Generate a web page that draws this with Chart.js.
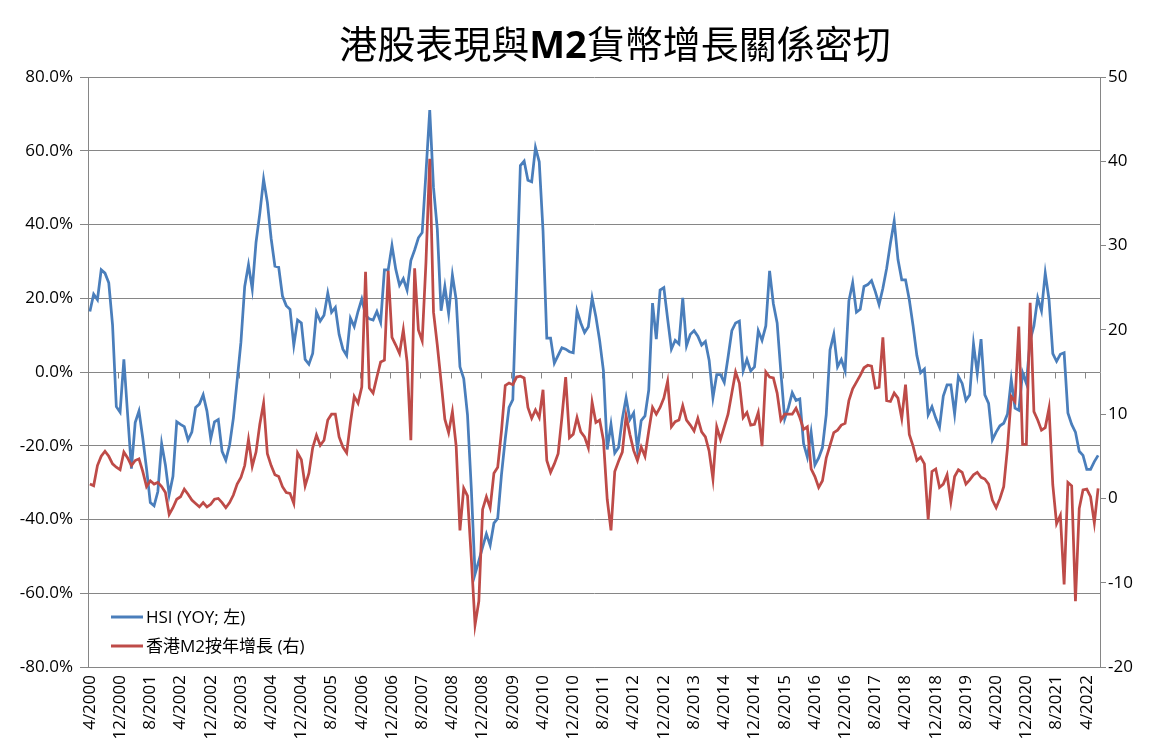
<!DOCTYPE html>
<html>
<head>
<meta charset="utf-8">
<script src="https://cdn.jsdelivr.net/npm/chart.js@4.4.0/dist/chart.umd.min.js"></script>
<style>
html,body{margin:0;padding:0;background:#fff;}
#c{display:block;}
</style>
</head>
<body>
<canvas id="c" width="1157" height="752"></canvas>
<script>
// ---- data ----
const startYear = 2000, startMonth = 4, nMonths = 268;
const labelEvery = 8;
const titleParts = [
  {text: '港股表現與', bold: false},
  {text: 'M2', bold: true},
  {text: '貨幣增長關係密切', bold: false}
];
const seriesNames = ['HSI (YOY; 左)', '香港M2按年增長 (右)'];
const leftTicks = {min: -80, max: 80, step: 20};
const rightTicks = {min: -20, max: 50, step: 10};

const hsi = [
16.4,21.1,19.6,27.7,26.8,24.2,12.8,-9.4,-10.9,3.4,
-11.6,-26.2,-13.7,-10.6,-17.9,-26.2,-35.4,-36.3,-32.4,-19.4,
-25.2,-33.3,-28.3,-13.5,-14.2,-14.8,-18.4,-16.3,-9.6,-8.7,
-6.2,-10.6,-18.1,-13.5,-12.9,-21.5,-23.9,-19.8,-12.5,-2.3,
8.1,23.2,29.1,22.5,35.2,43.0,52.3,46.0,36.2,28.7,
28.4,20.6,18.0,17.0,7.3,14.1,13.3,3.4,2.1,5.0,
16.2,13.8,15.4,21.4,16.2,17.5,10.2,6.2,4.5,14.6,
12.3,16.4,19.8,15.4,14.4,14.1,16.4,13.5,27.7,27.7,
34.3,27.9,23.5,25.3,22.2,30.2,33.1,36.4,37.8,54.0,
71.0,50.0,38.8,16.6,23.2,15.9,26.3,19.6,1.4,-1.8,
-11.6,-31.4,-54.8,-51.2,-47.5,-43.9,-47.0,-41.0,-39.7,-27.8,
-18.1,-9.6,-7.5,24.0,56.0,57.2,52.0,51.6,60.9,57.0,
38.3,9.2,9.2,2.4,4.5,6.6,6.2,5.5,5.2,16.6,
13.3,10.7,12.3,20.1,15.0,8.5,0.3,-21.0,-14.2,-22.0,
-20.5,-12.7,-7.0,-12.9,-11.1,-21.0,-13.2,-11.9,-4.9,18.7,
8.9,22.2,22.9,14.4,6.2,8.6,7.6,20.1,7.1,10.2,
11.2,9.7,7.3,8.3,3.1,-7.0,-0.7,-0.7,-2.8,4.0,
11.2,13.3,13.8,0.3,3.4,0.3,1.4,11.2,8.6,12.5,
27.4,18.5,13.3,-0.2,-12.7,-9.6,-5.6,-7.7,-7.3,-19.4,
-23.1,-16.3,-25.2,-23.3,-20.5,-11.6,6.0,10.2,1.4,3.4,
0.3,19.3,24.2,16.2,17.0,23.2,23.7,24.8,21.8,18.3,
22.7,28.1,34.9,40.9,30.5,25.0,25.0,19.6,12.5,4.5,
-0.2,0.8,-11.6,-9.4,-12.5,-15.0,-6.5,-3.5,-3.5,-11.4,
-1.2,-3.1,-7.7,-6.2,7.6,-0.4,8.9,-6.2,-8.5,-18.4,
-16.3,-14.6,-13.9,-11.4,-2.1,-9.8,-10.4,-0.2,-3.1,8.6,
12.5,20.1,16.6,26.8,19.6,5.0,2.9,4.8,5.2,-11.1,
-14.2,-16.3,-21.5,-22.6,-26.4,-26.4,-24.3,-22.6
];

const m2 = [
1.7,1.5,3.9,5.0,5.6,5.0,4.1,3.7,3.4,5.5,
4.8,3.9,4.5,4.7,3.2,1.4,2.1,1.7,1.9,1.4,
0.7,-1.9,-1.1,-0.1,0.2,1.1,0.5,-0.2,-0.6,-1.0,
-0.5,-1.0,-0.7,-0.1,0.0,-0.5,-1.1,-0.5,0.4,1.7,
2.5,3.9,7.0,3.8,5.5,8.8,11.3,5.3,3.9,2.8,
2.6,1.4,0.7,0.6,-0.6,5.4,4.6,1.5,3.0,6.0,
7.5,6.3,6.9,9.3,10.0,10.0,7.3,6.1,5.4,9.0,
12.1,11.3,13.2,26.9,13.1,12.5,14.4,16.2,16.4,27.0,
19.1,18.2,17.2,20.0,16.2,6.9,27.3,20.0,18.7,28.0,
40.3,22.1,18.2,13.9,9.4,7.8,10.3,6.2,-3.8,1.2,
0.3,-7.0,-15.0,-12.2,-1.3,0.2,-1.1,3.0,3.7,8.0,
13.4,13.7,13.5,14.4,14.5,14.3,10.8,9.5,10.5,9.6,
12.9,4.5,3.1,4.1,5.3,9.6,14.4,7.2,7.6,9.6,
7.9,7.3,6.0,11.4,9.0,9.3,6.9,-0.1,-3.8,3.2,
4.4,5.5,9.8,7.6,5.7,4.5,6.1,5.0,8.0,10.8,
10.0,10.8,11.9,13.9,8.5,9.1,9.3,11.0,9.3,8.7,
8.0,9.5,7.9,7.3,5.6,2.3,8.5,7.0,8.5,10.0,
12.5,15.0,13.7,9.6,10.2,8.7,8.8,10.2,6.2,15.0,
14.4,14.3,12.5,9.3,10.0,10.0,10.0,10.7,9.6,8.2,
8.5,3.5,2.6,1.3,2.1,4.8,6.3,7.8,8.1,8.7,
8.9,11.6,13.0,13.8,14.6,15.5,15.8,15.7,13.1,13.2,
19.1,11.6,11.5,12.5,11.9,9.5,13.5,7.6,6.2,4.5,
4.9,4.1,-2.5,3.2,3.5,1.3,1.7,2.8,-0.4,2.6,
3.4,3.1,1.7,2.2,2.8,3.1,2.5,2.3,1.7,-0.2,
-1.1,0.0,1.4,6.0,12.1,11.5,20.4,6.4,6.4,23.2,
10.3,9.3,8.1,8.4,10.7,1.6,-3.0,-2.0,-10.2,1.9,
1.5,-12.2,-1.2,1.0,1.1,0.2,-2.9,1.2
];

const labels = [];
for (let i = 0; i < nMonths; i++) {
  const t = (startMonth - 1) + i;
  labels.push(((t % 12) + 1) + '/' + (startYear + Math.floor(t / 12)));
}

// ---- style ----
const BLUE = '#4A7EBB', RED = '#BE4B48', GRID = '#868686';
const FONT = '"Open Sans", "Noto Sans CJK TC", sans-serif';
Chart.defaults.font.family = FONT;
Chart.defaults.font.size = 17;
Chart.defaults.color = '#000';

const decor = {
  id: 'decor',
  beforeDatasetsDraw(chart) {
    const {ctx, chartArea} = chart;
    const x = chart.scales.x, y = chart.scales.y;
    const y0 = Math.round(y.getPixelForValue(0)) + 0.5;
    ctx.save();
    ctx.strokeStyle = GRID; ctx.lineWidth = 1;
    ctx.beginPath();
    ctx.moveTo(chartArea.left, y0); ctx.lineTo(chartArea.right, y0);
    for (let i = 0; i <= labels.length; i += labelEvery) {
      let px;
      if (i === 0) px = chartArea.left;
      else if (i >= labels.length) px = chartArea.right;
      else px = (x.getPixelForValue(i) + x.getPixelForValue(i - 1)) / 2;
      px = Math.round(px) + 0.5;
      ctx.moveTo(px, y0); ctx.lineTo(px, y0 + 6);
    }
    ctx.stroke();
    ctx.restore();
  },
  afterDraw(chart) {
    const {ctx} = chart;
    ctx.save();
    // title
    const fNorm = '38px "Noto Sans CJK TC", sans-serif';
    const fBold = 'bold 38px "Open Sans", "Liberation Sans", sans-serif';
    let total = 0;
    const widths = titleParts.map(p => { ctx.font = p.bold ? fBold : fNorm; const w = ctx.measureText(p.text).width; total += w; return w; });
    let tx = 615 - total / 2;
    ctx.fillStyle = '#000';
    ctx.textBaseline = 'alphabetic';
    ctx.textAlign = 'left';
    titleParts.forEach((p, k) => { ctx.font = p.bold ? fBold : fNorm; ctx.fillText(p.text, tx, 58); tx += widths[k]; });
    // legend
    const colors = [BLUE, RED];
    const ly = [617, 646];
    ctx.font = '17px ' + FONT;
    ctx.textBaseline = 'middle';
    seriesNames.forEach((name, k) => {
      ctx.strokeStyle = colors[k]; ctx.lineWidth = 3;
      ctx.beginPath(); ctx.moveTo(111, ly[k]); ctx.lineTo(143, ly[k]); ctx.stroke();
      ctx.fillStyle = '#000';
      ctx.fillText(name, 146, ly[k] + 1);
    });
    ctx.restore();
  }
};

new Chart(document.getElementById('c'), {
  type: 'line',
  data: {
    labels: labels,
    datasets: [
      {label: seriesNames[0], data: hsi, yAxisID: 'y', borderColor: BLUE, backgroundColor: BLUE, borderWidth: 2.75, pointRadius: 0, tension: 0, order: 1},
      {label: seriesNames[1], data: m2, yAxisID: 'y1', borderColor: RED, backgroundColor: RED, borderWidth: 2.75, pointRadius: 0, tension: 0, order: 0}
    ]
  },
  options: {
    responsive: false,
    animation: false,
    layout: {padding: {top: 77, left: 0, right: 0, bottom: 0}},
    plugins: {legend: {display: false}, title: {display: false}, tooltip: {enabled: false}},
    scales: {
      x: {
        type: 'category',
        offset: true,
        grid: {display: false, drawTicks: false},
        border: {display: true, color: GRID, width: 1},
        ticks: {
          autoSkip: false, maxRotation: 90, minRotation: 90, padding: 8,
          font: {size: 17},
          callback: function(v, i) { return i % labelEvery === 0 ? labels[i] : null; }
        },
        afterFit: s => { s.height = 85; }
      },
      y: {
        position: 'left',
        min: leftTicks.min, max: leftTicks.max,
        grid: {color: GRID, lineWidth: 1, tickLength: 8, drawTicks: true},
        border: {display: true, color: GRID, width: 1},
        ticks: {stepSize: leftTicks.step, padding: 7, font: {size: 17}, callback: v => v.toFixed(1) + '%'},
        afterFit: s => { s.width = 88; }
      },
      y1: {
        position: 'right',
        min: rightTicks.min, max: rightTicks.max,
        grid: {drawOnChartArea: false, color: GRID, tickLength: 6, drawTicks: true},
        border: {display: true, color: GRID, width: 1},
        ticks: {stepSize: rightTicks.step, padding: 2, font: {size: 17}, callback: v => String(v)},
        afterFit: s => { s.width = 57; }
      }
    }
  },
  plugins: [decor]
});
</script>
</body>
</html>
